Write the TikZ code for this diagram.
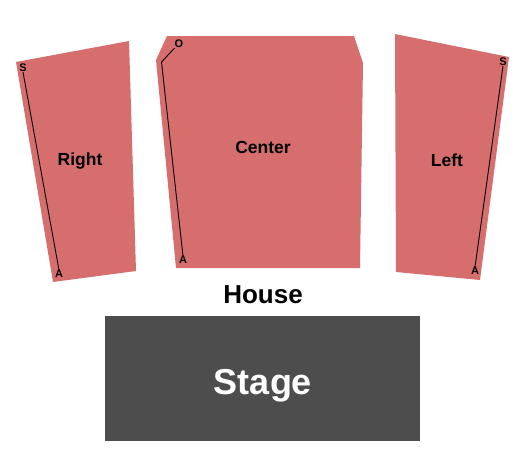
\documentclass[tikz,border=0pt]{standalone}
\usepackage{fontspec}
\setmainfont{Liberation Sans}
\usepackage{tikz}
\usetikzlibrary{positioning}
\definecolor{seatred}{RGB}{215,110,110}
\definecolor{stagegray}{RGB}{77,77,77}
\tikzstyle{section}  = [fill=seatred]
\tikzstyle{stagebox} = [fill=stagegray]
\tikzstyle{secname}  = [font=\bfseries\fontsize{17.5}{20}\selectfont, text=black, inner sep=0pt]
\tikzstyle{rowname}  = [font=\bfseries\fontsize{11}{13}\selectfont, text=black, inner sep=0pt]
\tikzstyle{rowline}  = [black, line width=0.9pt]

\begin{document}
\begin{tikzpicture}[x=1pt, y=-1pt]
    \useasboundingbox (0,0) rectangle (525,475);
    % Sections
    \fill [section] (16,62) -- (129,41) -- (136,271) -- (53,282) -- cycle;
    \fill [section] (156,60) -- (167,36) -- (354,36) -- (363,63) -- (360,268) -- (176,268) -- cycle;
    \fill [section] (395,34) -- (509,57) -- (480,280) -- (396,272) -- cycle;
    %% Stage
    \fill [stagebox] (105,316) rectangle (420,441);

    % Nodes
    \node (right)  [secname] at (80,161)  {Right};
    \node (center) [secname] at (263,147) {Center};
    \node (left)   [secname] at (447,160) {Left};
    \node (house)  [font=\bfseries\fontsize{26}{30}\selectfont, inner sep=0pt] at (263,295) {House};
    \node (stage)  [font=\bfseries\fontsize{36}{40}\selectfont, text=white, inner sep=0pt] at (263,386) {Stage};
    %% Row letters
    \node (right_s)  [rowname] at (23,68)  {S};
    \node (right_a)  [rowname] at (59,274) {A};
    \node (center_o) [rowname] at (179,44) {O};
    \node (center_a) [rowname] at (183,260) {A};
    \node (left_s)   [rowname] at (503,62) {S};
    \node (left_a)   [rowname] at (475,271) {A};
    \coordinate (center_bend) at (161.5,62);

    % Row lines
    \draw [rowline] (right_s.south)   -- (right_a.north);
    \draw [rowline] (center_o.south west) -- (center_bend) -- (center_a.north);
    \draw [rowline] (left_s.south)    -- (left_a.north);
\end{tikzpicture}
\end{document}
